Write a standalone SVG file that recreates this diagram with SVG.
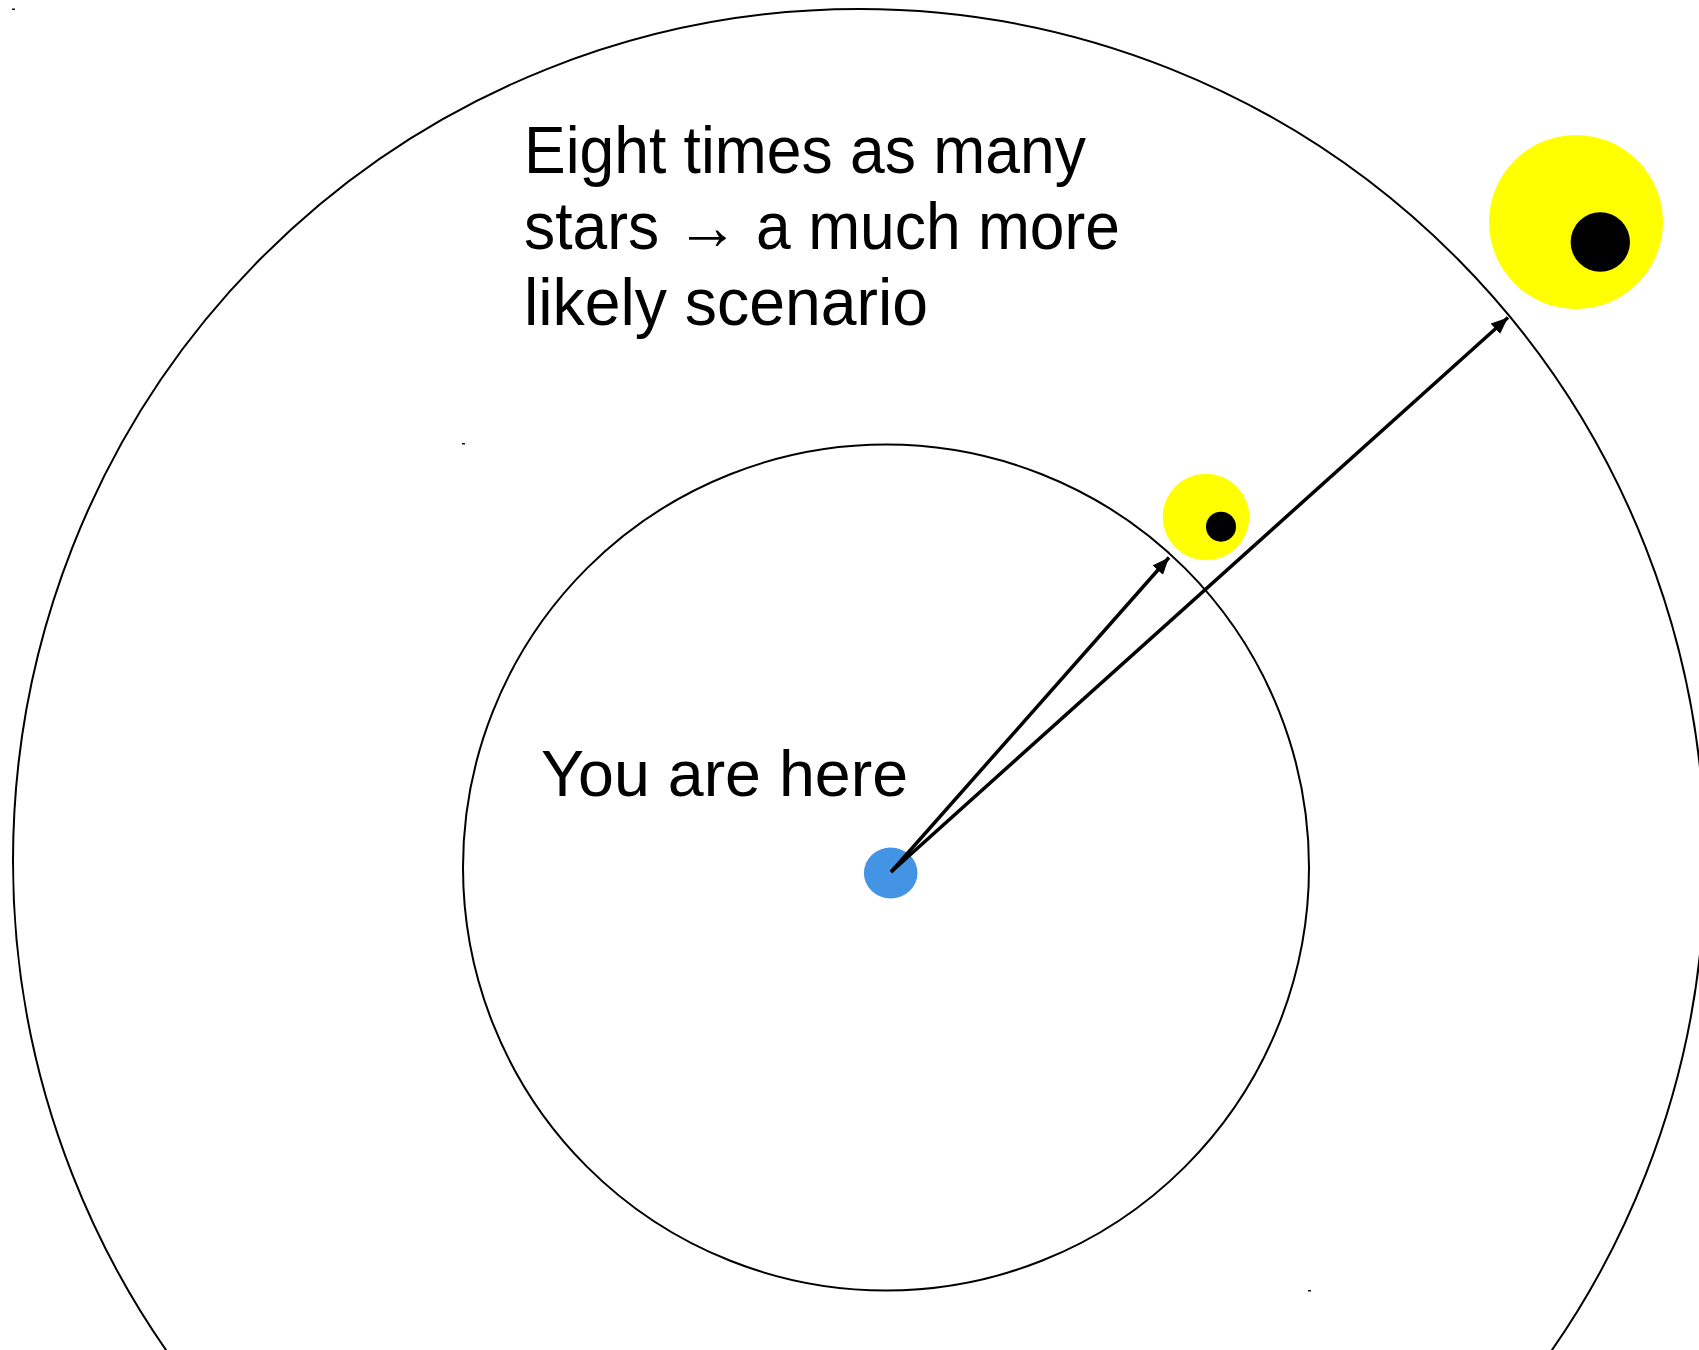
<svg xmlns="http://www.w3.org/2000/svg" width="1699" height="1350" viewBox="0 0 1699 1350">
<style>
.ring{fill:none;stroke:#000;stroke-width:2}
.conn{stroke:#000;stroke-width:3.5;fill:none}
.big{font-family:"Liberation Sans",Arial,sans-serif;font-size:66px;fill:#000}
.lbl{font-family:"Liberation Sans",Arial,sans-serif;font-size:64.5px;fill:#000}
.star{fill:#ffff00}
.hole{fill:#000}
.mark{fill:#111}
</style>
<defs>
<marker id="ah" markerUnits="userSpaceOnUse" markerWidth="20" markerHeight="16" refX="17" refY="7" orient="auto">
<path d="M0,0 L17,7 L0,14 Z" fill="#000"/>
</marker>
</defs>
<rect width="1699" height="1350" fill="#fff"/>
<g id="outer-ring"><ellipse class="ring" cx="859" cy="861" rx="846" ry="852"/></g>
<g id="inner-ring"><circle class="ring" cx="886" cy="867.5" r="423"/></g>
<g id="marks">
<rect class="mark" x="12" y="8.5" width="3" height="1.5"/>
<rect class="mark" x="462" y="443" width="3" height="1.5"/>
<rect class="mark" x="1308" y="1290" width="3" height="1.5"/>
</g>
<g id="star-near">
<circle class="star" cx="1206" cy="517" r="43.3"/>
<circle class="hole" cx="1221" cy="526.7" r="15"/>
</g>
<g id="star-far">
<circle class="star" cx="1576" cy="222" r="87"/>
<circle class="hole" cx="1600.3" cy="242" r="29.7"/>
</g>
<g id="you">
<ellipse cx="890.7" cy="873" rx="26.8" ry="25.5" fill="#4394e5"/>
</g>
<g id="connectors">
<line class="conn" x1="891" y1="872" x2="1169" y2="557.5" marker-end="url(#ah)"/>
<line class="conn" x1="891" y1="872" x2="1508" y2="317.5" marker-end="url(#ah)"/>
</g>
<g id="caption">
<text class="big" x="524" y="173" textLength="562" lengthAdjust="spacingAndGlyphs">Eight times as many</text>
<text class="big" x="524" y="249" textLength="596" lengthAdjust="spacingAndGlyphs">stars → a much more</text>
<text class="big" x="524" y="325" textLength="404" lengthAdjust="spacingAndGlyphs">likely scenario</text>
</g>
<g id="you-label">
<text class="lbl" x="541" y="796">You are here</text>
</g>
</svg>
